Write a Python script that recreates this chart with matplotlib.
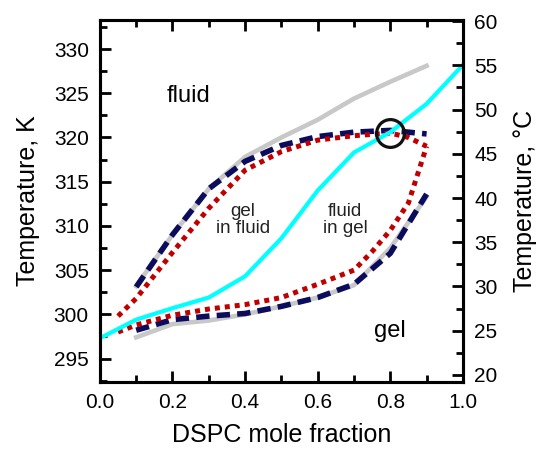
import matplotlib
matplotlib.use('Agg')
import matplotlib.pyplot as plt
from matplotlib.ticker import MultipleLocator

plt.rcParams['font.family'] = ['Liberation Sans', 'DejaVu Sans']

# DSPC mole fraction for the boundary curves
x_bound = [0.1, 0.2, 0.3, 0.4, 0.5, 0.6, 0.7, 0.8, 0.9]
# gray solid (liquidus / solidus)
gray_upper = [303.2, 309.0, 314.2, 317.8, 320.0, 322.0, 324.4, 326.3, 328.1]
gray_lower = [297.4, 298.9, 299.3, 300.0, 300.9, 301.9, 303.3, 307.5, 313.3]
# navy dashed
navy_upper = [303.1, 309.0, 314.2, 317.3, 319.1, 320.1, 320.6, 320.8, 320.4]
navy_lower = [298.2, 299.4, 299.8, 300.1, 300.9, 301.9, 303.4, 306.9, 313.6]
# red dotted
x_red_upper = [0.05, 0.1, 0.2, 0.3, 0.4, 0.5, 0.6, 0.7, 0.8, 0.85, 0.9]
red_upper = [299.8, 301.8, 307.0, 312.0, 316.3, 318.4, 319.7, 320.2, 320.5, 320.0, 319.0]
x_red_lower = [0.05, 0.1, 0.2, 0.3, 0.4, 0.5, 0.6, 0.7, 0.75, 0.8, 0.85, 0.9]
red_lower = [298.0, 298.8, 299.9, 300.6, 301.1, 301.9, 303.4, 305.0, 307.1, 309.5, 312.6, 319.0]
# cyan solid
x_cyan = [0.0, 0.1, 0.2, 0.3, 0.4, 0.5, 0.6, 0.7, 0.8, 0.9, 1.0]
cyan = [297.3, 299.4, 300.7, 301.9, 304.3, 308.6, 314.0, 318.3, 320.6, 323.8, 328.2]
# open circle marker
circle_x = [0.8]
circle_T = [320.5]

fig = plt.figure(figsize=(5.37, 4.51), dpi=100)
ax = fig.add_axes([0.186, 0.153, 0.676, 0.803])

ax.plot(x_bound, gray_upper, color='#c8c8c8', lw=3.3, zorder=2)
ax.plot(x_bound, gray_lower, color='#c8c8c8', lw=3.3, zorder=2)
ax.plot(x_bound, navy_upper, color='#0c0c5c', lw=4, ls=(0, (2.4, 1.3)),
        dash_capstyle='butt', zorder=3)
ax.plot(x_bound, navy_lower, color='#0c0c5c', lw=4, ls=(0, (2.4, 1.3)),
        dash_capstyle='butt', zorder=3)
ax.plot(x_red_upper, red_upper, color='#c00000', lw=3.6, ls=(0, (1, 1)),
        dash_capstyle='butt', zorder=4)
ax.plot(x_red_lower, red_lower, color='#c00000', lw=3.6, ls=(0, (1, 1)),
        dash_capstyle='butt', zorder=4)
ax.plot(x_cyan, cyan, color='#00ffff', lw=3, zorder=5)
ax.plot(circle_x, circle_T, 'o', ms=20, mfc='none', mec='#111111', mew=2.3, zorder=6)

ax.text(0.243, 324.7, 'fluid', fontsize=17, ha='center', va='center')
ax.text(0.80, 298.1, 'gel', fontsize=17, ha='center', va='center')
ax.text(0.394, 310.7, 'gel\nin fluid', fontsize=13.5, ha='center', va='center',
        color='#222222', linespacing=1.0)
ax.text(0.675, 310.7, 'fluid\nin gel', fontsize=13.5, ha='center', va='center',
        color='#222222', linespacing=1.0)

ylo, yhi = 292.35, 333.3
ax.set_xlim(0, 1.0)
ax.set_ylim(ylo, yhi)
ax.xaxis.set_major_locator(MultipleLocator(0.2))
ax.xaxis.set_minor_locator(MultipleLocator(0.1))
ax.yaxis.set_major_locator(MultipleLocator(5))
ax.yaxis.set_minor_locator(MultipleLocator(2.5))
ax.xaxis.set_major_formatter(matplotlib.ticker.FormatStrFormatter('%.1f'))
ax.tick_params(which='both', direction='in', width=2, labelsize=15,
               top=True, right=False)
ax.tick_params(which='major', length=8, pad=8)
ax.tick_params(which='minor', length=5)
ax.set_xlabel('DSPC mole fraction', fontsize=18, labelpad=8)
ax.set_ylabel('Temperature, K', fontsize=18, labelpad=10)

ax2 = ax.twinx()
ax2.set_ylim(ylo - 273.15, yhi - 273.15)
ax2.yaxis.set_major_locator(MultipleLocator(5))
ax2.yaxis.set_minor_locator(MultipleLocator(2.5))
ax2.tick_params(which='both', direction='in', width=2, labelsize=15)
ax2.tick_params(which='major', length=8, pad=8)
ax2.tick_params(which='minor', length=5)
ax2.set_ylabel('Temperature, \u00b0C', fontsize=18, labelpad=11)

for a in (ax, ax2):
    for s in a.spines.values():
        s.set_linewidth(2.2)

fig.savefig('out.png', dpi=100)
